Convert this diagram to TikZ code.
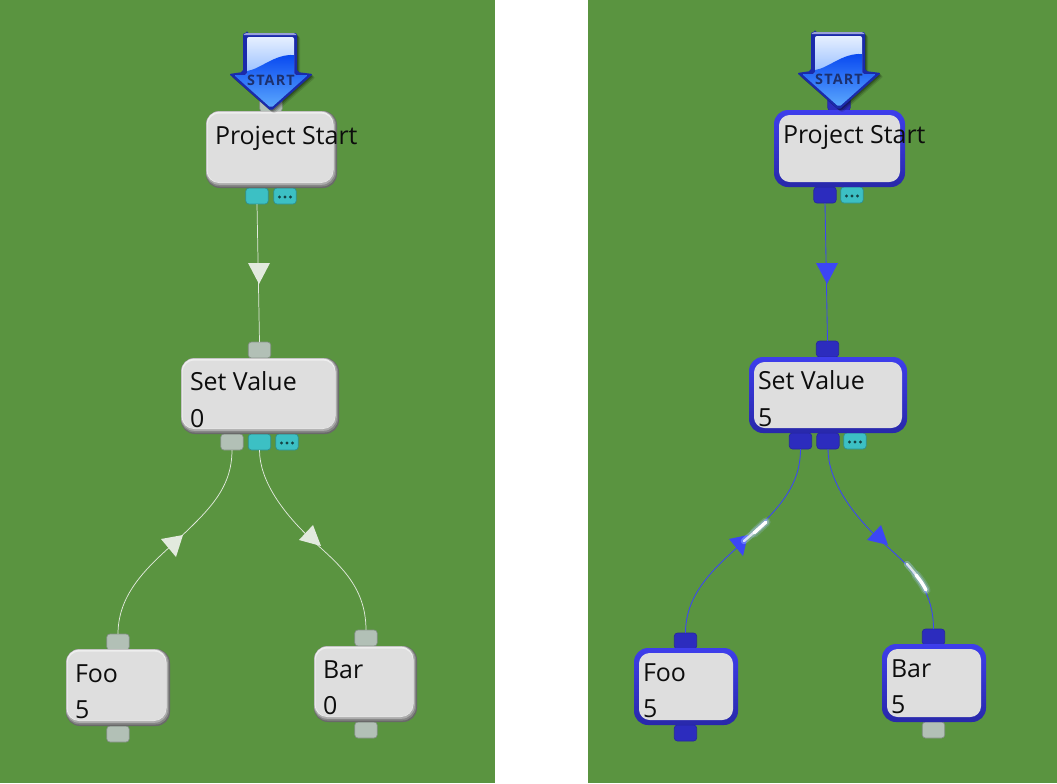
\documentclass[tikz,border=0pt]{standalone}
\usepackage{fontspec}
\setmainfont{Open Sans}
\usetikzlibrary{shadings,calc}
\definecolor{bggreen}{RGB}{90,148,64}
\definecolor{boxgray}{RGB}{222,222,222}
\definecolor{bevA}{RGB}{105,105,105}
\definecolor{bevB}{RGB}{135,135,135}
\definecolor{bevC}{RGB}{172,172,172}
\definecolor{bevD}{RGB}{238,238,238}
\definecolor{selhi}{RGB}{62,62,236}
\definecolor{sello}{RGB}{40,40,170}
\definecolor{portblue}{RGB}{44,44,190}
\definecolor{portteal}{RGB}{60,192,196}
\definecolor{portgray}{RGB}{178,192,182}
\definecolor{linkwhite}{RGB}{226,234,222}
\definecolor{linkblue}{RGB}{60,70,245}
\definecolor{arrowdark}{RGB}{26,42,170}
\definecolor{starttext}{RGB}{28,48,110}
\definecolor{glossA}{RGB}{238,244,255}
\definecolor{glossB}{RGB}{150,190,255}
\definecolor{headA}{RGB}{8,72,240}
\definecolor{headB}{RGB}{100,178,255}
\definecolor{halo}{RGB}{170,200,255}
\tikzset{
  x=0.75pt,y=-0.75pt,
  boxbase/.style={rectangle,rounded corners=10.5pt,inner sep=0pt,outer sep=0pt},
  plainbox/.style={boxbase,fill=bevA},
  selbox/.style={boxbase,top color=selhi,bottom color=sello},
  portbase/.style={rectangle,rounded corners=2.4pt,inner sep=0pt,outer sep=0pt,minimum width=16.8pt,minimum height=12pt},
  gport/.style={portbase,fill=portgray,draw=portgray!75!black,line width=0.5pt},
  tport/.style={portbase,fill=portteal,draw=portteal!75!black,line width=0.5pt},
  bport/.style={portbase,fill=portblue,draw=portblue!85!black,line width=0.5pt},
  lbl/.style={anchor=base west,inner sep=0pt,outer sep=0pt,font=\fontsize{18.7pt}{20pt}\selectfont,text=black!95},
  wlink/.style={draw=linkwhite,line width=0.55pt},
  blink/.style={draw=linkblue,line width=0.65pt},
  wtri/.style={fill=linkwhite},
  btri/.style={fill=linkblue},
}
% name, x1,y1,x2,y2 : bevelled box
\newcommand{\bevbox}[5]{%
  \node[plainbox,minimum width={(#4-#2)*0.75pt},minimum height={(#5-#3)*0.75pt}] (#1) at ({(#2+#4)/2},{(#3+#5)/2}) {};
  \fill[bevB,rounded corners=10.2pt] (#2,#3) rectangle (#4-1,#5-1.5);
  \fill[bevC,rounded corners=10pt] (#2,#3) rectangle (#4-2.2,#5-3.2);
  \fill[bevD,rounded corners=9.6pt] (#2+0.5,#3+0.5) rectangle (#4-3.5,#5-5);
  \fill[boxgray,rounded corners=9pt] (#2+1.5,#3+2.5) rectangle (#4-4,#5-5.5);
}
\newcommand{\ringbox}[5]{%
  \node[selbox,minimum width={(#4-#2)*0.75pt},minimum height={(#5-#3)*0.75pt}] (#1) at ({(#2+#4)/2},{(#3+#5)/2}) {};
  \fill[boxgray,rounded corners=8pt] (#2+5,#3+5) rectangle (#4-5,#5-5);
}
% style, name, x centre, y centre
\newcommand{\portat}[4]{\node[#1] (#2) at (#3,#4) {};}
\newcommand{\dotport}[3]{%
  \node[tport] (#1) at (#2,#3) {};
  \foreach \d in {-5.5,0,5.5}{\fill[black!65!portteal] (#2+\d,#3+1) circle (1.2pt);}
}
% x shift, y shift : START arrow
\newcommand{\startarrow}[3]{%
 \begin{scope}[shift={(#1,#2)}]
  \foreach \o/\p in {3/.12,2/.18,1/.25}{
   \fill[black,opacity=\p,rounded corners=2pt] (14+\o,0+\o) -- (68+\o,0+\o) -- (68+\o,39+\o) -- (84+\o,41+\o) -- (42+\o,78+\o) -- (0+\o,41+\o) -- (14+\o,39+\o) -- cycle;
  }
  \fill[arrowdark,rounded corners=1.5pt] (18,0) -- (64,0) .. controls (67,0) and (68,1) .. (68,4) -- (68,39) -- (84,41) -- (42,78) -- (0,41) -- (14,39) -- (14,4) .. controls (14,1) and (15,0) .. (18,0) -- cycle;
  \fill[arrowdark!45!white] (18,0) -- (64,0) .. controls (66,0) and (67,1) .. (67.5,2) -- (14.5,2) .. controls (15,1) and (16,0) .. (18,0) -- cycle;
  \begin{scope}
   \clip[rounded corners=1.5pt] (18,4) -- (65,4) -- (65,42) -- (79,42) -- (42,75) -- (5,42) -- (18,42) -- cycle;
   \shade[top color=glossA,bottom color=glossB] (0,0) rectangle (90,42);
   \shade[top color=headA,bottom color=headB] (0,80) -- (0,38) -- (18,38) .. controls (32,36) and (45,21) .. (65,22) -- (90,22) -- (90,80) -- cycle;
  \end{scope}
  \node[inner sep=0pt,font=\bfseries\addfontfeatures{LetterSpace=8}\fontsize{10.8pt}{11pt}\selectfont,text=starttext] (#3) at (42,47.5) {START};
 \end{scope}
}
% whole streak, then its bright end
\newcommand{\glowline}[2]{%
  \draw[halo,opacity=.2,line width=7pt,line cap=round] #2;
  \draw[halo,opacity=.4,line width=4.8pt,line cap=round] #1;
  \draw[white,opacity=.75,line width=1.8pt,line cap=round] #1;
  \draw[white,line width=2.5pt,line cap=round] #2;
}
\begin{document}
\begin{tikzpicture}
\useasboundingbox (0,0) rectangle (1057,783);
\fill[white] (0,0) rectangle (1057,783);
\fill[bggreen] (0,0) rectangle (495,783);
\fill[bggreen] (588,0) rectangle (1057,783);

% --- left panel ports
\portat{gport}{lpsIn}{271}{104}
\portat{tport}{lpsOut}{257}{196}
\dotport{lpsDots}{285}{196}
\portat{gport}{lsvIn}{259.5}{350}
\portat{gport}{lsvA}{232}{442}
\portat{tport}{lsvB}{259.5}{442}
\dotport{lsvDots}{287}{442}
\portat{gport}{lfIn}{118}{642}
\portat{gport}{lfOut}{118}{734}
\portat{gport}{lbIn}{366}{638}
\portat{gport}{lbOut}{366}{730}
% --- right panel ports
\portat{bport}{rpsIn}{839}{103}
\portat{bport}{rpsOut}{825}{195}
\dotport{rpsDots}{852}{195}
\portat{bport}{rsvIn}{827.5}{349}
\portat{bport}{rsvA}{800.5}{441}
\portat{bport}{rsvB}{828}{441}
\dotport{rsvDots}{855}{441}
\portat{bport}{rfIn}{685.5}{641}
\portat{bport}{rfOut}{685.5}{733}
\portat{bport}{rbIn}{933.5}{637}
\portat{gport}{rbOut}{933.5}{730}

% --- connectors, left
\draw[wlink] (lpsOut.south) -- (lsvIn.north);
\coordinate (lmidA) at (172,545);
\coordinate (lmidB) at (312,540);
\draw[wlink] (lsvA.south) .. controls +(0,40) and +(35,-33) .. (lmidA) .. controls +(-28,25) and +(0,-38) .. (lfIn.north);
\draw[wlink] (lsvB.south) .. controls +(0,30) and +(-30,-28) .. (lmidB) .. controls +(25,23) and +(0,-45) .. (lbIn.north);
\fill[wtri] (248,263) -- (270,263) -- (259,284) -- cycle;
\fill[wtri] (161,539) -- (183,535) -- (176,557) -- cycle;
\fill[wtri] (299,540) -- (313,525) -- (321,546) -- cycle;
% --- connectors, right
\draw[blink] (rpsOut.south) -- (rsvIn.north);
\coordinate (rmidA) at (740,545);
\coordinate (rmidB) at (880,540);
\draw[blink] (rsvA.south) .. controls +(0,40) and +(35,-33) .. (rmidA) .. controls +(-28,25) and +(0,-38) .. (rfIn.north);
\draw[blink] (rsvB.south) .. controls +(0,30) and +(-30,-28) .. (rmidB) .. controls +(25,23) and +(0,-45) .. (rbIn.north);
\fill[btri] (816,263) -- (838,263) -- (827,284) -- cycle;
\fill[btri] (729,539) -- (748,535) -- (743,556) -- cycle;
\fill[btri] (867,540) -- (881,525) -- (888,545) -- cycle;
\glowline{(744,541) -- (766,522)}{(754,533) -- (766,522)}
\glowline{(907,564) .. controls (915,573) and (921,581) .. (926,590)}{(916,575) .. controls (920,580) and (923,584) .. (926,590)}

% --- boxes, left
\bevbox{lps}{206}{111}{337}{188}
\bevbox{lsv}{181}{358}{339}{434}
\bevbox{lf}{66}{649}{170}{726}
\bevbox{lb}{314}{646}{417}{722}
% --- boxes, right
\ringbox{rps}{774}{110}{905}{187}
\ringbox{rsv}{749}{357}{907}{433}
\ringbox{rf}{634}{648}{738}{725}
\ringbox{rb}{882}{644}{986}{722}

% --- labels
\node[lbl] (tlps) at (215,144) {Project Start};
\node[lbl] (tlsv) at (190,390) {Set Value};
\node[lbl] (tlsvv) at (190,427) {0};
\node[lbl] (tlf) at (75,682) {Foo};
\node[lbl] (tlfv) at (75,718) {5};
\node[lbl] (tlb) at (323,678) {Bar};
\node[lbl] (tlbv) at (323,714) {0};
\node[lbl] (trps) at (783,143) {Project Start};
\node[lbl] (trsv) at (758,389) {Set Value};
\node[lbl] (trsvv) at (758,426) {5};
\node[lbl] (trf) at (643,681) {Foo};
\node[lbl] (trfv) at (643,717) {5};
\node[lbl] (trb) at (891,677) {Bar};
\node[lbl] (trbv) at (891,713) {5};

\startarrow{229}{33}{slleft}
\startarrow{797}{32}{slright}
\end{tikzpicture}
\end{document}
